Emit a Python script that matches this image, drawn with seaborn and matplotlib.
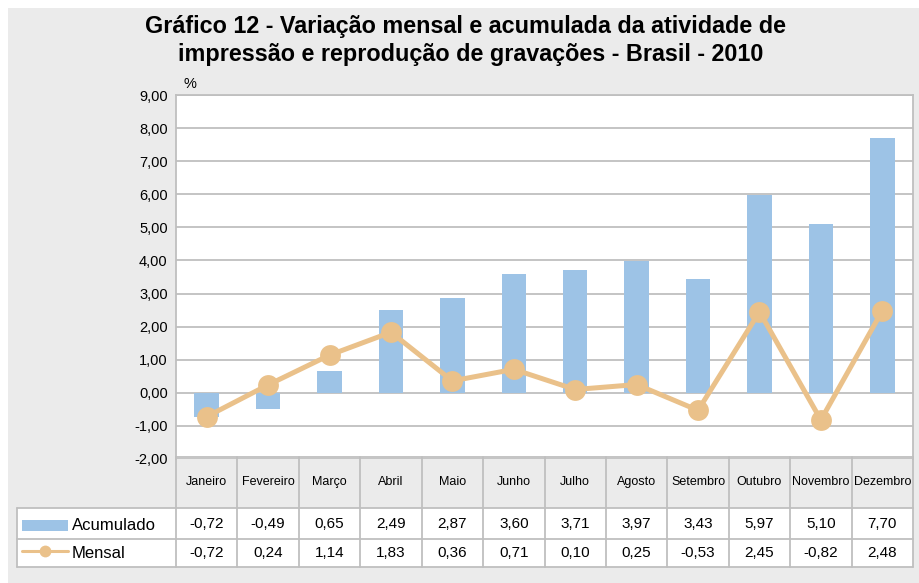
import numpy as np
import pandas as pd
import seaborn as sns
import matplotlib.pyplot as plt
from matplotlib.patches import Rectangle
from matplotlib.lines import Line2D

meses = ['Janeiro', 'Fevereiro', 'Março', 'Abril', 'Maio', 'Junho', 'Julho',
         'Agosto', 'Setembro', 'Outubro', 'Novembro', 'Dezembro']
acumulado = [-0.72, -0.49, 0.65, 2.49, 2.87, 3.60, 3.71, 3.97, 3.43, 5.97, 5.10, 7.70]
mensal = [-0.72, 0.24, 1.14, 1.83, 0.36, 0.71, 0.10, 0.25, -0.53, 2.45, -0.82, 2.48]
titulo = 'Gráfico 12 - Variação mensal e acumulada da atividade de\nimpressão e reprodução de gravações - Brasil - 2010'

cor_barra = '#9DC3E6'
cor_linha = '#EAC18A'
cor_grade = '#BFBFBF'
cor_fundo = '#EBEBEB'

sns.set_theme(style='white')
plt.rcParams['font.family'] = ['Liberation Sans', 'DejaVu Sans']
plt.rcParams['text.color'] = 'black'
plt.rcParams['ytick.color'] = 'black'

W, H = 919, 583
fig = plt.figure(figsize=(W / 100, H / 100), dpi=100)
fig.patch.set_facecolor('white')
fig.add_artist(Rectangle((8 / W, 0), 1, 1 - 8 / H, transform=fig.transFigure,
                         facecolor=cor_fundo, edgecolor='none', zorder=-10))

x0, x1 = 176, 913
ax = fig.add_axes([x0 / W, (H - 459) / H, (x1 - x0) / W, (459 - 95) / H])
ax.set_facecolor('white')

df = pd.DataFrame({'mes': meses, 'acumulado': acumulado, 'mensal': mensal})
sns.barplot(data=df, x='mes', y='acumulado', color=cor_barra, saturation=1,
            width=0.4, linewidth=0, ax=ax, zorder=2)
sns.lineplot(x=np.arange(len(meses)), y=df['mensal'], color=cor_linha,
             linewidth=3.6, marker='o', markersize=15, markeredgewidth=0,
             ax=ax, zorder=3)

ax.set_xlim(-0.5, len(meses) - 0.5)
ax.set_ylim(-2, 9)
ax.set_yticks(np.arange(-2, 10, 1))
ax.set_yticklabels([f'{v:.2f}'.replace('.', ',') for v in np.arange(-2, 10, 1)],
                   fontsize=10.5, color='black')
ax.tick_params(axis='y', length=0, pad=6)
ax.set_xticks([])
ax.set_xlabel('')
ax.set_ylabel('')
ax.grid(axis='y', color=cor_grade, linewidth=1.3, zorder=0)
ax.set_axisbelow(True)
for s in ax.spines.values():
    s.set_color(cor_grade)
    s.set_linewidth(1.3)
ax.spines['bottom'].set_visible(False)
fig.text(183 / W, 1 - 84 / H, '%', fontsize=10.5, ha='left', va='center')

fig.text(466 / W, 1 - 27 / H, titulo.split('\n')[0], ha='center', va='center',
         fontsize=16.8, fontweight='bold')
fig.text(471 / W, 1 - 55 / H, titulo.split('\n')[1], ha='center', va='center',
         fontsize=16.8, fontweight='bold')

# tabela de dados
col = (x1 - x0) / len(meses)
def px(p):
    return -0.5 + (p - x0) / col

tb = fig.add_axes([x0 / W, (H - 567) / H, (x1 - x0) / W, (567 - 457) / H])
tb.set_xlim(-0.5, len(meses) - 0.5)
tb.set_ylim(567, 457)
tb.axis('off')
xl = px(17)
tb.add_patch(Rectangle((xl, 508), len(meses) - 0.5 - xl, 59, facecolor='white',
                       edgecolor='none', clip_on=False, zorder=0))
lk = dict(color=cor_grade, linewidth=1.3, clip_on=False, zorder=1)
tb.plot([-0.5, len(meses) - 0.5], [457, 457], **lk)
for yy in (508, 539, 567):
    tb.plot([xl, len(meses) - 0.5], [yy, yy], **lk)
for i in range(len(meses) + 1):
    tb.plot([i - 0.5, i - 0.5], [457, 567], **lk)
tb.plot([xl, xl], [508, 567], **lk)

for i, m in enumerate(meses):
    tb.text(i, 482, m, ha='center', va='center', fontsize=9)
    tb.text(i, 523.5, f'{acumulado[i]:.2f}'.replace('.', ','), ha='center', va='center', fontsize=11)
    tb.text(i, 553, f'{mensal[i]:.2f}'.replace('.', ','), ha='center', va='center', fontsize=11)

tb.add_patch(Rectangle((px(22), 520), px(68) - px(22), 11, facecolor=cor_barra,
                       edgecolor='none', clip_on=False))
tb.text(px(72), 525, 'Acumulado', ha='left', va='center', fontsize=12)
tb.add_line(Line2D([px(22), px(68)], [551, 551], color=cor_linha, linewidth=2.2,
                   clip_on=False))
tb.add_line(Line2D([px(45)], [551], color=cor_linha, marker='o', markersize=8.5,
                   markeredgewidth=0, clip_on=False))
tb.text(px(72), 554, 'Mensal', ha='left', va='center', fontsize=12)

fig.savefig('out.png', dpi=100)
